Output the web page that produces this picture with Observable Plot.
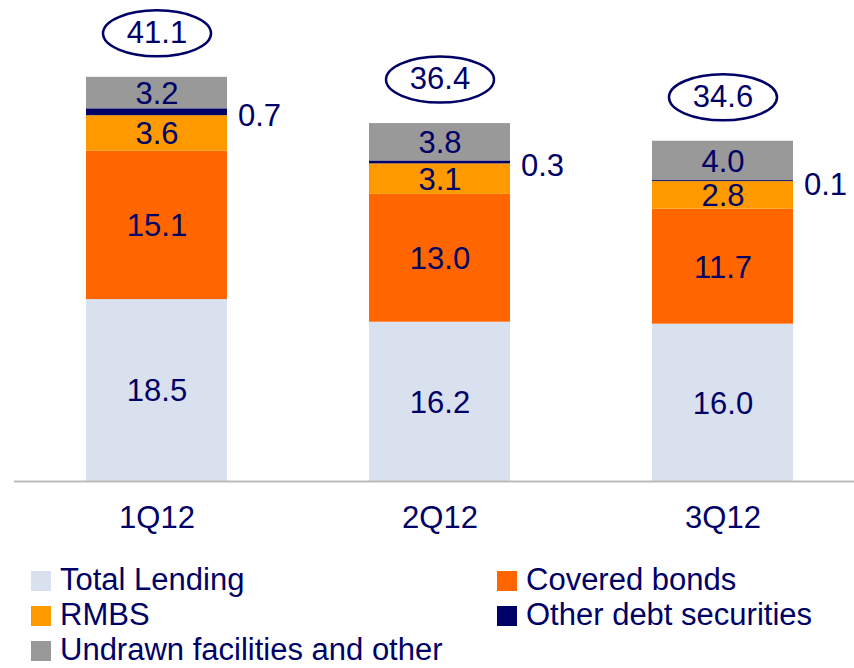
<!DOCTYPE html>
<html>
<head>
<meta charset="utf-8">
<script src="https://cdn.jsdelivr.net/npm/d3@7"></script>
<script src="https://cdn.jsdelivr.net/npm/@observablehq/plot@0.6"></script>
<style>
  body { margin: 0; background: #fff; font-family: "Liberation Sans", Arial, sans-serif; }
  #chart svg { display: block; overflow: visible; }
  #legend { display: grid; grid-template-columns: 466px auto; padding-left: 31px; margin-top: 8px;
            color: #000066; font-size: 31px; line-height: 1.1; }
  #legend .item { display: flex; align-items: center; height: 35px; white-space: nowrap; }
  #legend .sw { width: 20px; height: 20px; margin-right: 9px; flex: none; }
</style>
</head>
<body>
<div id="chart"></div>
<div id="legend"></div>
<script>
const quarters = ["1Q12", "2Q12", "3Q12"];
const series = ["Total Lending", "Covered bonds", "RMBS", "Other debt securities", "Undrawn facilities and other"];
const colors = ["#D9E0EE", "#FF6600", "#FF9900", "#000066", "#999999"];
const totalLending = [18.5, 16.2, 16.0];
const coveredBonds = [15.1, 13.0, 11.7];
const rmbs = [3.6, 3.1, 2.8];
const otherDebt = [0.7, 0.3, 0.1];
const undrawn = [3.2, 3.8, 4.0];
const totals = [41.1, 36.4, 34.6];
const legendOrder = ["Total Lending", "Covered bonds", "RMBS", "Other debt securities", "Undrawn facilities and other"];

const seriesValues = [totalLending, coveredBonds, rmbs, otherDebt, undrawn];
const data = [];
quarters.forEach((q, i) => {
  series.forEach((s, j) => data.push({quarter: q, series: s, value: seriesValues[j][i]}));
});
const totalData = quarters.map((q, i) => ({quarter: q, total: totals[i]}));

const navy = "#000066";
const rx = 54, ry = 23, k = 0.5523;
const ellipse = {
  draw(ctx) {
    ctx.moveTo(rx, 0);
    ctx.bezierCurveTo(rx, ry * k, rx * k, ry, 0, ry);
    ctx.bezierCurveTo(-rx * k, ry, -rx, ry * k, -rx, 0);
    ctx.bezierCurveTo(-rx, -ry * k, -rx * k, -ry, 0, -ry);
    ctx.bezierCurveTo(rx * k, -ry, rx, -ry * k, rx, 0);
    ctx.closePath();
  }
};

const font = "\"Liberation Sans\", Arial, sans-serif";
const fs = 31;

const chart = Plot.plot({
  width: 854,
  height: 555,
  marginLeft: 14,
  marginRight: 0,
  marginTop: 9,
  marginBottom: 74,
  style: {fontFamily: font, background: "white"},
  x: {domain: quarters, padding: 0.503, paddingOuter: 0.233, align: 0.54, label: null},
  y: {domain: [0, 48], axis: null},
  color: {domain: series, range: colors},
  marks: [
    Plot.barY(data, {x: "quarter", y: "value", fill: "series", order: series}),
    Plot.ruleY([0], {stroke: "#BBBBBB", strokeWidth: 2}),
    Plot.axisX({tickSize: 0, tickPadding: 24, fontSize: fs, color: navy, label: null}),
    Plot.text(data, Plot.stackY({
      x: "quarter", y: "value", z: "series", order: series,
      text: d => d.series === "Other debt securities" ? "" : d.value.toFixed(1),
      fill: navy, fontSize: fs, dy: 1
    })),
    Plot.text(data, Plot.stackY({
      x: "quarter", y: "value", z: "series", order: series,
      text: d => d.series === "Other debt securities" ? d.value.toFixed(1) : "",
      fill: navy, fontSize: fs, textAnchor: "start", dx: 81, dy: 4
    })),
    Plot.dot(totalData, {x: "quarter", y: "total", dy: -44, symbol: ellipse, fill: "white", stroke: navy, strokeWidth: 2.5}),
    Plot.text(totalData, {x: "quarter", y: "total", dy: -44, text: d => d.total.toFixed(1), fill: navy, fontSize: fs})
  ]
});
document.getElementById("chart").appendChild(chart);

const legend = document.getElementById("legend");
legendOrder.forEach(s => {
  const item = document.createElement("div");
  item.className = "item";
  const sw = document.createElement("span");
  sw.className = "sw";
  sw.style.background = colors[series.indexOf(s)];
  const label = document.createElement("span");
  label.textContent = s;
  item.appendChild(sw);
  item.appendChild(label);
  legend.appendChild(item);
});
</script>
</body>
</html>
